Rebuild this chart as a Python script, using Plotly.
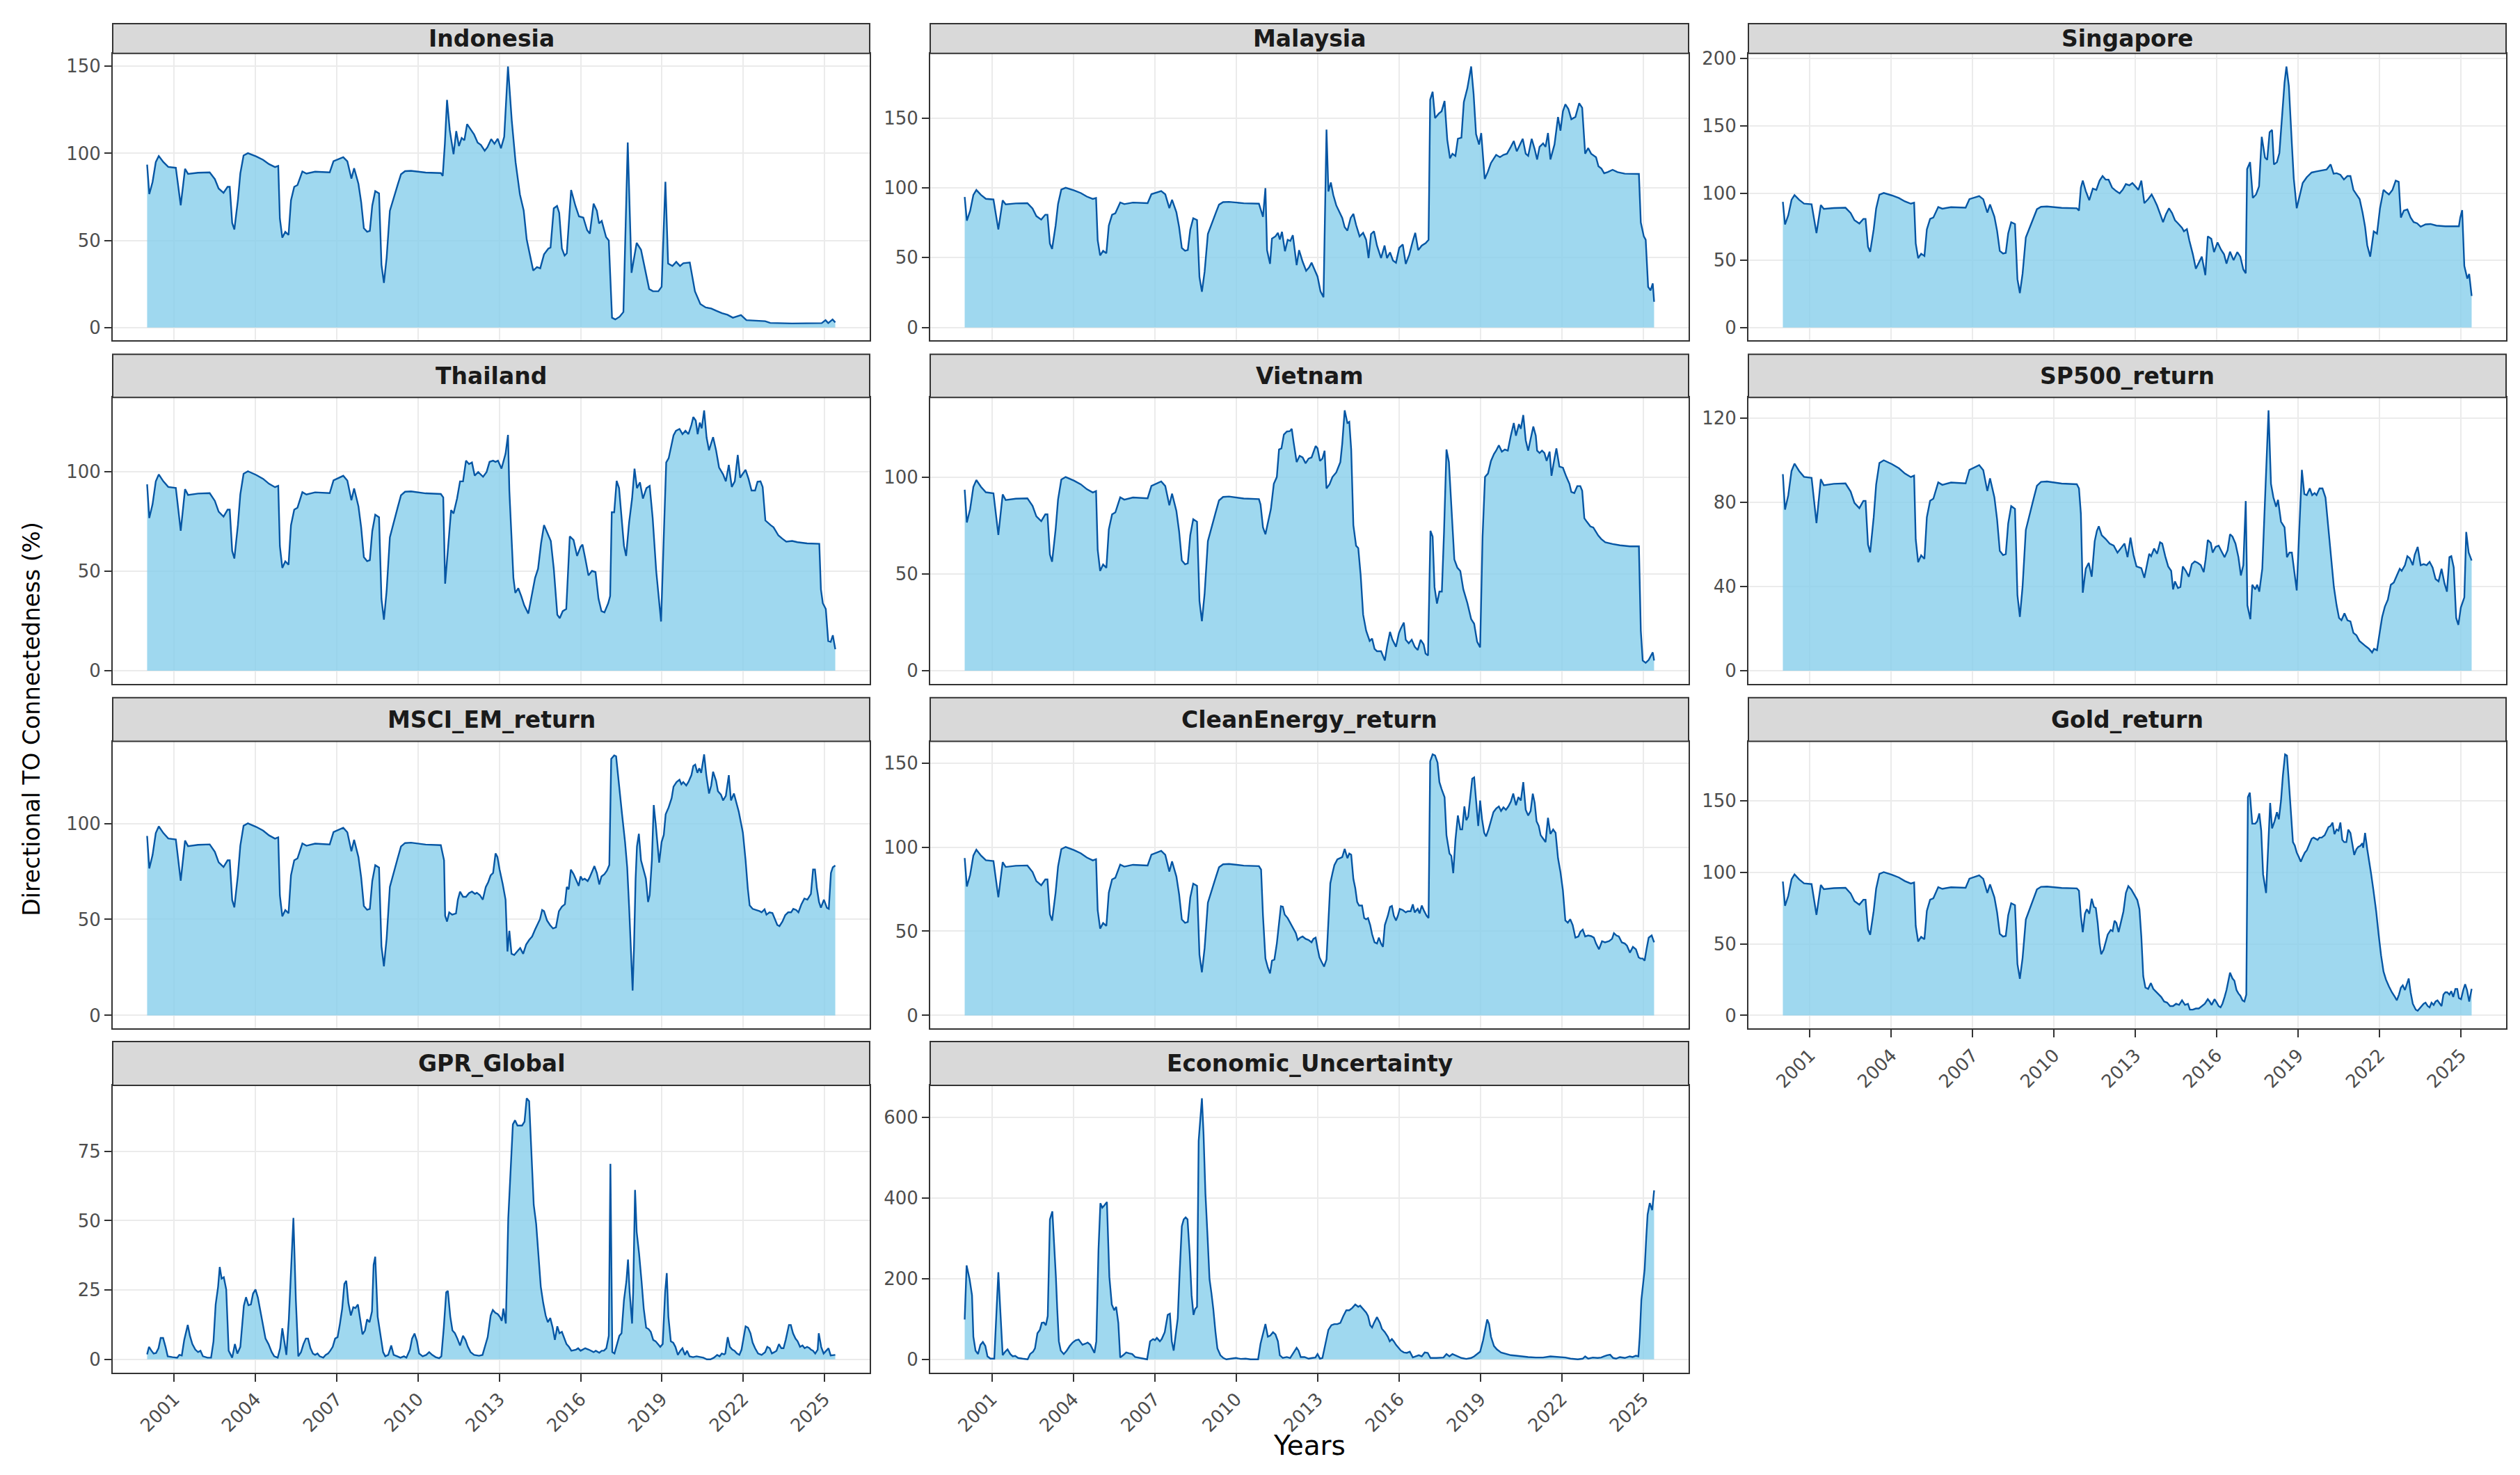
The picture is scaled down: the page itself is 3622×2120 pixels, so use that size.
import plotly.graph_objects as go

# canvas of the reference picture
W, H = 3622, 2120
OFF = 8  # the page body keeps its default 8px margin, so pull the layout back by that much

FILL = "rgba(135,206,235,0.8)"
LINE = "#0656A4"
FONT = "DejaVu Sans, Verdana, sans-serif"

years = [2001, 2004, 2007, 2010, 2013, 2016, 2019, 2022, 2025]
year_labels = [str(y) for y in years]
first_year, last_year = 2000.0, 2025.4

# 2000-2010 stretch, the same in every market / asset panel
base = [(2000.0, 93.5), (2000.08, 76.6), (2000.2, 83.5), (2000.32, 95.0), (2000.43, 98.5),
        (2000.6, 95.0), (2000.78, 92.2), (2001.06, 91.7), (2001.24, 70.2), (2001.4, 91.1),
        (2001.51, 88.2), (2001.88, 88.9), (2002.31, 89.1), (2002.5, 85.2), (2002.64, 79.8),
        (2002.82, 77.3), (2002.97, 80.8), (2003.05, 80.8), (2003.14, 60.0), (2003.22, 56.3),
        (2003.35, 73.0), (2003.44, 88.5), (2003.56, 98.8), (2003.72, 100.1), (2004.03, 98.2),
        (2004.28, 96.3), (2004.5, 93.8), (2004.72, 92.1), (2004.84, 92.8), (2004.9, 62.5),
        (2004.99, 51.6), (2005.1, 54.9), (2005.22, 53.2), (2005.31, 73.0), (2005.43, 80.8),
        (2005.55, 81.8), (2005.73, 89.6), (2005.88, 88.4), (2006.2, 89.5), (2006.74, 89.1),
        (2006.88, 95.5), (2007.06, 96.7), (2007.24, 97.8), (2007.39, 95.4), (2007.54, 85.5),
        (2007.64, 91.5), (2007.8, 82.5), (2007.9, 72.0), (2008.0, 57.0), (2008.12, 55.0),
        (2008.22, 55.5), (2008.31, 70.0), (2008.42, 78.3), (2008.56, 77.0), (2008.65, 36.0),
        (2008.74, 25.6), (2008.84, 40.0), (2008.96, 67.0), (2009.12, 74.8), (2009.25, 82.0),
        (2009.37, 88.0), (2009.52, 89.8), (2009.74, 90.0), (2010.28, 89.0), (2010.84, 88.7)]

indonesia = [(2010.91, 87), (2010.99, 105.5), (2011.07, 130.7), (2011.17, 113.4), (2011.31, 99.5),
             (2011.41, 112.8), (2011.51, 104.2), (2011.61, 108.8), (2011.71, 107.5), (2011.81, 116.8),
             (2011.93, 114.1), (2012.07, 110.8), (2012.2, 106.2), (2012.32, 104.8), (2012.46, 101.5),
             (2012.56, 103.5), (2012.7, 108.2), (2012.82, 105.5), (2012.94, 108.4), (2013.06, 102.9),
             (2013.18, 109.5), (2013.32, 149.9), (2013.46, 118.7), (2013.6, 94.9), (2013.76, 76.4),
             (2013.9, 67.1), (2014.01, 50.6), (2014.25, 32.7), (2014.39, 34.7), (2014.51, 34),
             (2014.65, 42), (2014.81, 45.3), (2014.89, 45.9), (2015.01, 68.4), (2015.13, 69.8),
             (2015.21, 65.8), (2015.31, 45.3), (2015.41, 41.3), (2015.49, 42.6), (2015.65, 79),
             (2015.81, 69.8), (2015.94, 63.8), (2016.1, 63.1), (2016.24, 55.9), (2016.34, 53.9),
             (2016.48, 71.1), (2016.6, 67.1), (2016.68, 59.8), (2016.78, 61.2), (2016.94, 51.9),
             (2017.04, 49.9), (2017.16, 5.6), (2017.28, 4.6), (2017.44, 6.2), (2017.58, 8.9),
             (2017.74, 106.2), (2017.88, 31.4), (2018.07, 48.6), (2018.23, 44.6), (2018.39, 32.7),
             (2018.53, 22.1), (2018.67, 20.8), (2018.87, 20.8), (2018.99, 23.4), (2019.13, 83.7),
             (2019.23, 36.7), (2019.39, 35.3), (2019.53, 37.7), (2019.67, 35.3), (2019.79, 36.9),
             (2020.03, 37.3), (2020.22, 20.8), (2020.42, 13.5), (2020.62, 11.5), (2020.82, 10.9),
             (2021.02, 9.5), (2021.22, 8.2), (2021.42, 7.3), (2021.62, 5.6), (2021.92, 7.1),
             (2022.12, 4.2), (2022.81, 3.6), (2023.0, 2.6), (2023.8, 2.3), (2024.9, 2.5),
             (2025.04, 4.2), (2025.14, 2.5), (2025.3, 4.6), (2025.4, 2.9)]

malaysia = [(2010.99, 79.3), (2011.08, 99.8), (2011.14, 55.4), (2011.25, 45.6), (2011.32, 63.7),
            (2011.45, 65.3), (2011.54, 67.8), (2011.61, 63), (2011.69, 68.6), (2011.8, 54.6),
            (2011.9, 62.8), (2012.0, 62), (2012.09, 66.1), (2012.23, 44.7), (2012.32, 55.4),
            (2012.45, 47.2), (2012.58, 40.6), (2012.69, 43.1), (2012.78, 46.4), (2012.87, 42.3),
            (2013.0, 36.5), (2013.11, 25.8), (2013.22, 21.7), (2013.33, 141.8), (2013.4, 97.4),
            (2013.49, 103.9), (2013.58, 94.9), (2013.69, 87.5), (2013.82, 81.7), (2013.91, 78.5),
            (2014.0, 71.9), (2014.1, 69.4), (2014.22, 78.5), (2014.32, 81.4), (2014.42, 73.5),
            (2014.55, 65.3), (2014.68, 67.8), (2014.79, 62.8), (2014.88, 49.7), (2014.97, 66.9),
            (2015.08, 68.9), (2015.19, 58.7), (2015.34, 49.7), (2015.47, 58.7), (2015.56, 49.7),
            (2015.67, 53.8), (2015.78, 48), (2015.89, 46.4), (2016.01, 57.1), (2016.14, 59.5),
            (2016.25, 45.6), (2016.38, 52.1), (2016.51, 62), (2016.6, 67.8), (2016.71, 55.4),
            (2016.84, 58.7), (2016.98, 60.4), (2017.09, 62.8), (2017.15, 163.2), (2017.24, 168.9),
            (2017.33, 150), (2017.47, 153.3), (2017.57, 154.9), (2017.68, 162.3), (2017.78, 134.4),
            (2017.88, 121.2), (2017.97, 124.5), (2018.08, 122.9), (2018.17, 135.2), (2018.3, 136),
            (2018.39, 161.5), (2018.52, 171.4), (2018.66, 187), (2018.75, 167.3), (2018.84, 138.5),
            (2018.95, 131.1), (2019.03, 139.3), (2019.16, 106.4), (2019.27, 111.3), (2019.39, 117.9),
            (2019.58, 123.7), (2019.72, 122), (2019.85, 123.7), (2019.98, 124.5), (2020.12, 129.4),
            (2020.23, 133.6), (2020.34, 126.2), (2020.45, 131.1), (2020.56, 135.2), (2020.67, 124.5),
            (2020.76, 123), (2020.89, 135.2), (2021.0, 127.8), (2021.09, 120.4), (2021.18, 129.4),
            (2021.31, 131.9), (2021.4, 129.4), (2021.49, 139.3), (2021.58, 120.4), (2021.73, 131.1),
            (2021.86, 150.8), (2021.95, 141), (2022.04, 154.9), (2022.13, 159.9), (2022.24, 156.6),
            (2022.35, 149.2), (2022.5, 150.8), (2022.64, 160.7), (2022.75, 157.4), (2022.86, 124.5),
            (2022.97, 128.6), (2023.08, 124.5), (2023.26, 122), (2023.35, 115.5), (2023.46, 113.8),
            (2023.56, 110.5), (2023.69, 111.3), (2023.87, 113), (2024.05, 111.3), (2024.32, 110.2),
            (2024.84, 110), (2024.91, 75.2), (2025.02, 65.3), (2025.09, 62.8), (2025.18, 29.1),
            (2025.27, 26.6), (2025.35, 31.6), (2025.4, 18.4)]

singapore = [(2010.92, 87), (2010.99, 104.1), (2011.06, 109.3), (2011.17, 101.5), (2011.3, 94.7),
             (2011.43, 103.3), (2011.56, 102.4), (2011.68, 109.3), (2011.79, 112.7), (2011.9, 110.1),
             (2012.01, 110), (2012.14, 104.1), (2012.29, 101.5), (2012.42, 99.8), (2012.53, 102.4),
             (2012.65, 106.7), (2012.78, 105.8), (2012.89, 107.5), (2013.0, 105), (2013.11, 102.4),
             (2013.22, 109.3), (2013.33, 92.5), (2013.47, 95.5), (2013.6, 99), (2013.69, 95.5),
             (2013.8, 90.7), (2013.93, 83.5), (2014.02, 78.4), (2014.13, 84.4), (2014.24, 88.7),
             (2014.35, 85.2), (2014.46, 79.8), (2014.57, 77.5), (2014.72, 74.1), (2014.79, 71.5),
             (2014.9, 73.2), (2014.99, 64.7), (2015.12, 54.4), (2015.23, 43.7), (2015.34, 48.4),
             (2015.45, 52.7), (2015.58, 38.9), (2015.67, 67.8), (2015.8, 66), (2015.9, 56.1),
             (2016.03, 63.3), (2016.16, 57.8), (2016.27, 54.4), (2016.36, 47.5), (2016.49, 56.4),
             (2016.62, 50.1), (2016.76, 56.1), (2016.87, 52.7), (2016.98, 43.2), (2017.07, 40.3),
             (2017.12, 117.8), (2017.23, 123), (2017.33, 96.4), (2017.45, 99), (2017.56, 105),
             (2017.66, 141.9), (2017.78, 126.4), (2017.86, 124.7), (2017.95, 145.3), (2018.04, 147),
             (2018.11, 121.3), (2018.22, 123), (2018.31, 129.8), (2018.4, 157.3), (2018.5, 182.2),
             (2018.57, 194.2), (2018.66, 179.6), (2018.77, 136.7), (2018.84, 111), (2018.95, 88.7),
             (2019.06, 99), (2019.17, 107.5), (2019.32, 111.8), (2019.5, 115.3), (2019.68, 116.1),
             (2019.87, 117), (2020.05, 117.5), (2020.2, 121.3), (2020.31, 114.4), (2020.42, 114.8),
             (2020.56, 113.6), (2020.69, 110.1), (2020.82, 112.7), (2020.93, 112.7), (2021.04, 102.4),
             (2021.15, 99), (2021.27, 95.5), (2021.38, 85.2), (2021.47, 75), (2021.55, 61.2),
             (2021.66, 52.7), (2021.79, 71.5), (2021.91, 69.8), (2022.02, 88.7), (2022.15, 102.4),
             (2022.24, 100.7), (2022.35, 99), (2022.48, 102.4), (2022.6, 109.3), (2022.71, 108.4),
             (2022.79, 81.8), (2022.9, 87), (2023.03, 87.8), (2023.15, 81.8), (2023.26, 78.4),
             (2023.39, 77.5), (2023.52, 75), (2023.7, 76.7), (2023.88, 77), (2024.1, 75.8),
             (2024.43, 75.3), (2024.93, 75.3), (2024.98, 81.8), (2025.05, 87.3), (2025.13, 45.8),
             (2025.24, 36.4), (2025.31, 39.8), (2025.4, 23.5)]

thailand = [(2010.93, 87), (2011.0, 43.7), (2011.13, 66.2), (2011.22, 80.6), (2011.31, 78.9),
            (2011.44, 86.4), (2011.55, 95), (2011.66, 95), (2011.77, 105.4), (2011.88, 103.7),
            (2011.99, 104.5), (2012.09, 97.9), (2012.22, 99.7), (2012.4, 97.3), (2012.53, 99.7),
            (2012.64, 104.8), (2012.77, 105.4), (2012.86, 104.8), (2012.95, 105.4), (2013.08, 101.4),
            (2013.23, 108.9), (2013.32, 118.3), (2013.37, 90.4), (2013.45, 63.9), (2013.52, 46.6),
            (2013.59, 39.1), (2013.7, 41.4), (2013.81, 37.4), (2013.92, 32.8), (2014.07, 28.7),
            (2014.18, 36.2), (2014.32, 46.6), (2014.43, 51.2), (2014.54, 63.9), (2014.65, 73.1),
            (2014.78, 69.1), (2014.9, 65.1), (2015.01, 51.2), (2015.14, 28.1), (2015.23, 26.4),
            (2015.34, 29.9), (2015.47, 31), (2015.6, 67.4), (2015.74, 65.6), (2015.87, 57.6),
            (2016.0, 62.2), (2016.07, 63.3), (2016.18, 55.8), (2016.29, 47.8), (2016.42, 50.1),
            (2016.55, 49.5), (2016.66, 36.2), (2016.77, 29.9), (2016.88, 29.3), (2017.02, 33.9),
            (2017.09, 37.4), (2017.15, 79.5), (2017.24, 79.5), (2017.33, 95.3), (2017.42, 91.6),
            (2017.51, 76.6), (2017.6, 62.7), (2017.68, 57.6), (2017.79, 74.3), (2017.9, 86.4),
            (2017.99, 101.4), (2018.08, 91.6), (2018.19, 94.5), (2018.3, 86.4), (2018.43, 91.6),
            (2018.55, 92.7), (2018.66, 76.6), (2018.79, 50.1), (2018.88, 37.4), (2018.97, 24.7),
            (2019.07, 67.4), (2019.16, 104.5), (2019.25, 106.6), (2019.34, 111.8), (2019.43, 118.1),
            (2019.52, 120.4), (2019.65, 121.3), (2019.76, 118.7), (2019.87, 120.4), (2019.98, 118.7),
            (2020.09, 123.3), (2020.16, 127.3), (2020.25, 125.5), (2020.32, 118.7), (2020.4, 124.5),
            (2020.47, 121.6), (2020.56, 130.6), (2020.65, 117), (2020.74, 110.6), (2020.89, 117.2),
            (2021.0, 110.6), (2021.11, 102), (2021.26, 98.5), (2021.36, 95), (2021.47, 103.3),
            (2021.58, 92.2), (2021.69, 95), (2021.8, 108.3), (2021.89, 96.8), (2021.98, 98.7),
            (2022.09, 100.8), (2022.2, 96.2), (2022.31, 90.4), (2022.44, 90.4), (2022.53, 94.8),
            (2022.64, 95), (2022.72, 92.2), (2022.82, 75.4), (2022.9, 74.3), (2023.01, 73.1),
            (2023.12, 72), (2023.23, 69.7), (2023.3, 67.9), (2023.45, 66.2), (2023.59, 64.8),
            (2023.81, 65.1), (2024.0, 64.5), (2024.36, 63.9), (2024.81, 63.7), (2024.87, 40.8),
            (2024.94, 33.9), (2025.05, 31), (2025.14, 14.9), (2025.23, 14.5), (2025.31, 17.8),
            (2025.4, 10.8)]

vietnam = [(2010.9, 85.9), (2010.99, 74.1), (2011.08, 70.5), (2011.17, 76.4), (2011.28, 83.5),
           (2011.39, 96.6), (2011.5, 100.1), (2011.58, 114.3), (2011.67, 114.9), (2011.76, 122),
           (2011.87, 123.6), (2011.98, 123.8), (2012.05, 125), (2012.12, 117.9), (2012.23, 107.8),
           (2012.34, 111), (2012.45, 110.2), (2012.56, 107.2), (2012.67, 109.6), (2012.78, 110.2),
           (2012.93, 116.1), (2013.0, 114.9), (2013.09, 108.4), (2013.18, 109.6), (2013.26, 113.7),
           (2013.33, 94.2), (2013.44, 96.3), (2013.55, 100.1), (2013.69, 102.5), (2013.84, 107.8),
           (2013.91, 117.3), (2014.0, 134.5), (2014.1, 128), (2014.17, 128.6), (2014.24, 114.3),
           (2014.32, 75.2), (2014.42, 64.6), (2014.5, 63.4), (2014.59, 49.2), (2014.68, 29),
           (2014.79, 20.7), (2014.92, 15.4), (2015.01, 16.6), (2015.1, 11.3), (2015.19, 10.1),
           (2015.34, 10.1), (2015.48, 5.3), (2015.56, 12.4), (2015.67, 20.1), (2015.76, 16),
           (2015.89, 12.4), (2016.0, 19.5), (2016.07, 21.9), (2016.18, 24.9), (2016.25, 16),
           (2016.36, 14.2), (2016.47, 16), (2016.58, 12.4), (2016.69, 10.7), (2016.8, 16),
           (2016.91, 13.6), (2016.98, 8.9), (2017.07, 7.9), (2017.16, 72.3), (2017.24, 69.3),
           (2017.31, 43.2), (2017.4, 34.7), (2017.49, 40.9), (2017.58, 40.9), (2017.66, 71.7),
           (2017.75, 114.3), (2017.84, 107.8), (2017.93, 85.9), (2018.04, 57.5), (2018.15, 53.3),
           (2018.26, 51.5), (2018.37, 42.1), (2018.52, 35), (2018.66, 26.7), (2018.77, 24.3),
           (2018.88, 15), (2018.99, 12.1), (2019.08, 69.3), (2019.17, 100.1), (2019.28, 101.9),
           (2019.39, 108.4), (2019.5, 112), (2019.58, 113.7), (2019.68, 116.5), (2019.79, 113.2),
           (2019.9, 114.3), (2020.01, 113.7), (2020.12, 121.4), (2020.23, 128), (2020.31, 121.4),
           (2020.42, 127.4), (2020.49, 125), (2020.58, 132.1), (2020.67, 119.1), (2020.76, 113.7),
           (2020.85, 119.7), (2020.95, 126.2), (2021.04, 121.4), (2021.09, 113.7), (2021.18, 112.5),
           (2021.27, 113.7), (2021.36, 112.5), (2021.44, 108.4), (2021.55, 113.2), (2021.62, 100.7),
           (2021.69, 106.6), (2021.8, 114.9), (2021.91, 105.5), (2022.04, 104.9), (2022.17, 100.1),
           (2022.28, 96.6), (2022.35, 92.4), (2022.46, 91.8), (2022.57, 95.4), (2022.68, 95.4),
           (2022.75, 93), (2022.83, 78.8), (2022.92, 77), (2023.05, 74.6), (2023.16, 74),
           (2023.23, 72.3), (2023.34, 69.9), (2023.45, 68.1), (2023.6, 66.4), (2023.87, 65.5),
           (2024.14, 64.8), (2024.51, 64.3), (2024.84, 64.3), (2024.91, 20.7), (2024.98, 5.3),
           (2025.09, 4.1), (2025.2, 5.6), (2025.35, 9.5), (2025.4, 5.3)]

sp500 = [(2010.92, 86.7), (2010.99, 74.7), (2011.06, 37.1), (2011.17, 48.5), (2011.28, 51.3),
         (2011.39, 44.7), (2011.5, 61.6), (2011.58, 66.5), (2011.65, 68.7), (2011.76, 64.4),
         (2011.9, 62.7), (2012.05, 60.5), (2012.2, 59.5), (2012.34, 56.2), (2012.47, 58.4),
         (2012.6, 60.5), (2012.71, 54), (2012.82, 63.3), (2012.93, 55.1), (2013.04, 49.6),
         (2013.15, 49.1), (2013.22, 48.8), (2013.33, 44.2), (2013.44, 50.7), (2013.51, 55.6),
         (2013.58, 54.5), (2013.69, 58.1), (2013.8, 55.6), (2013.91, 61.1), (2013.99, 60.5),
         (2014.1, 54.5), (2014.21, 49.6), (2014.32, 47.5), (2014.39, 38.7), (2014.46, 42.5),
         (2014.57, 39.3), (2014.66, 39.8), (2014.75, 49.6), (2014.86, 47.5), (2014.97, 44.7),
         (2015.08, 50.7), (2015.19, 52), (2015.3, 51.3), (2015.41, 50.2), (2015.52, 46.9),
         (2015.59, 52.9), (2015.67, 62.2), (2015.78, 60.8), (2015.85, 56.2), (2015.96, 58.9),
         (2016.07, 59.5), (2016.18, 56.7), (2016.29, 54), (2016.4, 57.3), (2016.49, 64.9),
         (2016.58, 63.8), (2016.69, 60.5), (2016.8, 54), (2016.89, 45.3), (2016.98, 50.2),
         (2017.07, 80.7), (2017.13, 31.1), (2017.24, 24.5), (2017.31, 40.9), (2017.42, 38.7),
         (2017.49, 40.9), (2017.57, 37.6), (2017.68, 48.5), (2017.77, 75.8), (2017.86, 105.3),
         (2017.91, 123.8), (2018.0, 88.9), (2018.09, 82.4), (2018.19, 78), (2018.26, 81.3),
         (2018.37, 70.9), (2018.5, 68.2), (2018.59, 54), (2018.68, 56.2), (2018.77, 56.2),
         (2018.84, 49.6), (2018.95, 38.2), (2019.04, 66), (2019.14, 95.5), (2019.23, 84),
         (2019.32, 83.5), (2019.43, 86.7), (2019.52, 83.5), (2019.61, 84.5), (2019.68, 83.5),
         (2019.79, 86.7), (2019.9, 86.7), (2020.01, 82.4), (2020.09, 71.5), (2020.2, 55.1),
         (2020.32, 39.8), (2020.42, 31.1), (2020.51, 25.1), (2020.6, 24), (2020.71, 27.3),
         (2020.82, 24), (2020.93, 23.5), (2021.04, 18), (2021.15, 16.9), (2021.26, 14.2),
         (2021.4, 12.5), (2021.51, 11.5), (2021.62, 10.4), (2021.73, 8.7), (2021.8, 10.4),
         (2021.91, 9.8), (2022.02, 19.1), (2022.1, 25.6), (2022.2, 30.5), (2022.31, 33.8),
         (2022.42, 40.9), (2022.53, 42), (2022.64, 45.3), (2022.75, 48.5), (2022.82, 47.5),
         (2022.94, 50.2), (2023.03, 54.5), (2023.12, 53.5), (2023.23, 50.2), (2023.3, 55.1),
         (2023.41, 58.9), (2023.52, 50.2), (2023.63, 50.7), (2023.74, 50.2), (2023.85, 51.8),
         (2023.96, 49.1), (2024.07, 43.6), (2024.18, 42.5), (2024.29, 48.5), (2024.4, 41.5),
         (2024.49, 37.6), (2024.58, 54), (2024.65, 54.5), (2024.74, 49.1), (2024.83, 25.1),
         (2024.91, 21.8), (2025.0, 30), (2025.13, 34.9), (2025.2, 66), (2025.29, 56.2),
         (2025.4, 52.4)]

msci_em = [(2010.96, 80.8), (2011.0, 51.9), (2011.07, 48.9), (2011.15, 53.7), (2011.26, 52.5),
           (2011.4, 53.1), (2011.47, 60.3), (2011.55, 64.5), (2011.66, 61.8), (2011.77, 61.8),
           (2011.88, 63.7), (2011.99, 64.5), (2012.1, 63.3), (2012.17, 63.9), (2012.28, 62.7),
           (2012.39, 60.3), (2012.5, 66.9), (2012.59, 69.4), (2012.68, 73), (2012.77, 74.2),
           (2012.86, 84.4), (2012.93, 82.6), (2013.01, 76), (2013.12, 68.8), (2013.23, 60.3),
           (2013.3, 33.3), (2013.37, 44.1), (2013.45, 32.1), (2013.55, 31.5), (2013.66, 33.3),
           (2013.77, 35.1), (2013.88, 32.1), (2013.99, 36.9), (2014.1, 39.3), (2014.21, 41.1),
           (2014.32, 44.7), (2014.43, 48.3), (2014.5, 50.1), (2014.58, 54.9), (2014.65, 54.3),
           (2014.76, 49.5), (2014.87, 47.1), (2014.98, 45.3), (2015.09, 45.9), (2015.2, 54.3),
           (2015.31, 56.7), (2015.42, 57.9), (2015.49, 66.9), (2015.56, 65.7), (2015.64, 76),
           (2015.74, 73.6), (2015.82, 71.2), (2015.93, 67.5), (2016.0, 72.4), (2016.07, 70.6),
           (2016.15, 71.2), (2016.26, 70), (2016.33, 71.8), (2016.42, 74.8), (2016.51, 77.8),
           (2016.6, 74.2), (2016.69, 68.2), (2016.77, 72.4), (2016.88, 73.6), (2016.97, 75.4),
           (2017.06, 78.4), (2017.13, 133.7), (2017.24, 135.5), (2017.31, 135), (2017.42, 119.2),
           (2017.53, 104.8), (2017.64, 90.4), (2017.72, 77.2), (2017.79, 56.7), (2017.86, 35.1),
           (2017.92, 12.9), (2017.97, 35.1), (2018.03, 71.2), (2018.08, 88), (2018.15, 94.6),
           (2018.23, 80.8), (2018.34, 74.8), (2018.41, 71.2), (2018.49, 59.1), (2018.55, 62.7),
           (2018.63, 80.8), (2018.7, 109.6), (2018.77, 100), (2018.85, 86.8), (2018.9, 79.6),
           (2018.99, 90.4), (2019.07, 94), (2019.14, 104.8), (2019.25, 108.4), (2019.36, 113.2),
           (2019.43, 119.2), (2019.54, 121.6), (2019.65, 122.8), (2019.72, 120.4), (2019.79, 121.6),
           (2019.9, 119.8), (2019.98, 121.6), (2020.09, 125.2), (2020.16, 130), (2020.23, 130.7),
           (2020.31, 126.4), (2020.38, 128.8), (2020.45, 126.4), (2020.56, 136), (2020.64, 125.2),
           (2020.74, 115.6), (2020.82, 119.8), (2020.89, 127), (2021.0, 122.2), (2021.07, 116.8),
           (2021.18, 115), (2021.26, 112), (2021.36, 114.4), (2021.47, 125.2), (2021.55, 112),
           (2021.66, 115.6), (2021.73, 112), (2021.84, 106), (2021.99, 95.2), (2022.09, 80.8),
           (2022.17, 66.3), (2022.24, 57.3), (2022.35, 55.5), (2022.5, 54.9), (2022.61, 54.3),
           (2022.68, 53.7), (2022.79, 55.3), (2022.86, 52.5), (2022.97, 53.7), (2023.08, 53.3),
           (2023.17, 50.1), (2023.26, 47.1), (2023.34, 46.5), (2023.45, 48.9), (2023.55, 52.2),
           (2023.66, 53.7), (2023.77, 53.7), (2023.85, 55.5), (2023.96, 54.9), (2024.04, 53.7),
           (2024.15, 57.9), (2024.26, 60.9), (2024.37, 60.3), (2024.5, 63.3), (2024.58, 76),
           (2024.65, 76), (2024.72, 66.3), (2024.8, 59.1), (2024.87, 56.1), (2024.98, 60.3),
           (2025.09, 56.1), (2025.16, 55.5), (2025.24, 74.2), (2025.31, 77.2), (2025.4, 78.1)]

clean_energy = [(2010.92, 86.6), (2010.99, 59.2), (2011.08, 33.8), (2011.17, 28.4), (2011.25, 24.9),
                (2011.32, 32.5), (2011.41, 33.2), (2011.5, 42.7), (2011.58, 55.1), (2011.65, 64.9),
                (2011.72, 64.6), (2011.79, 59.9), (2011.9, 57.8), (2012.01, 54.4), (2012.12, 51.6),
                (2012.2, 48.9), (2012.27, 44.8), (2012.36, 46.2), (2012.45, 46.9), (2012.56, 45.5),
                (2012.67, 44.8), (2012.78, 43.4), (2012.85, 45.5), (2012.93, 46.2), (2013.0, 40),
                (2013.07, 34.5), (2013.15, 31.8), (2013.24, 29), (2013.33, 33.2), (2013.4, 53.7),
                (2013.47, 78.4), (2013.55, 84.5), (2013.62, 89.3), (2013.73, 92.7), (2013.84, 93.4),
                (2013.91, 94.1), (2014.0, 98.9), (2014.1, 93.4), (2014.17, 96.2), (2014.24, 95.5),
                (2014.32, 81.1), (2014.39, 75.6), (2014.46, 67.4), (2014.53, 65.3), (2014.64, 65.3),
                (2014.72, 57.8), (2014.79, 57.1), (2014.86, 57.8), (2014.94, 53.7), (2015.01, 48.2),
                (2015.1, 43.4), (2015.19, 42.7), (2015.26, 46.2), (2015.34, 42.7), (2015.41, 40.7),
                (2015.48, 53.7), (2015.59, 59.2), (2015.67, 64.4), (2015.74, 65), (2015.81, 59.2),
                (2015.89, 56.4), (2015.96, 59.2), (2016.03, 63.3), (2016.14, 62.6), (2016.25, 61.2),
                (2016.32, 61.9), (2016.43, 61.9), (2016.51, 66), (2016.58, 61.2), (2016.69, 63.3),
                (2016.76, 60.6), (2016.84, 65.3), (2016.93, 61.9), (2017.02, 59.2), (2017.09, 57.8),
                (2017.15, 151), (2017.24, 155.1), (2017.33, 154.4), (2017.42, 150.3), (2017.49, 138.6),
                (2017.57, 134.5), (2017.68, 129.7), (2017.75, 107.1), (2017.86, 96.2), (2017.93, 94.8),
                (2018.0, 84.5), (2018.08, 104.4), (2018.17, 118.8), (2018.26, 110.5), (2018.33, 110.5),
                (2018.41, 124.2), (2018.48, 116), (2018.55, 118.1), (2018.63, 130.4), (2018.7, 140.7),
                (2018.77, 141.4), (2018.84, 126.3), (2018.92, 112.6), (2018.99, 127.7), (2019.06, 116.7),
                (2019.14, 108.5), (2019.21, 106.4), (2019.3, 110.5), (2019.39, 116), (2019.48, 120.8),
                (2019.58, 122.9), (2019.68, 124.2), (2019.76, 121.5), (2019.85, 123.6), (2019.94, 122.2),
                (2020.03, 124.2), (2020.12, 127), (2020.21, 131.8), (2020.31, 124.9), (2020.4, 129.7),
                (2020.49, 127.7), (2020.58, 138.6), (2020.67, 122.2), (2020.76, 118.8), (2020.85, 121.5),
                (2020.93, 131.8), (2021.0, 126.3), (2021.07, 115.3), (2021.15, 112.6), (2021.22, 107.1),
                (2021.31, 105.1), (2021.4, 103), (2021.49, 117.4), (2021.58, 107.8), (2021.68, 110.5),
                (2021.77, 108.5), (2021.86, 93.4), (2021.95, 85.2), (2022.04, 74.2), (2022.13, 56.4),
                (2022.22, 55.1), (2022.31, 57.1), (2022.4, 53.7), (2022.5, 46.2), (2022.61, 46.9),
                (2022.68, 49.6), (2022.77, 51), (2022.86, 46.9), (2022.97, 47.5), (2023.08, 47.1),
                (2023.18, 46.2), (2023.26, 42.7), (2023.37, 39.3), (2023.48, 44.1), (2023.59, 43.4),
                (2023.74, 44.1), (2023.85, 45.5), (2023.92, 48.9), (2024.01, 47.5), (2024.1, 46.9),
                (2024.21, 43.4), (2024.32, 42.7), (2024.4, 41.4), (2024.51, 37.3), (2024.62, 40.7),
                (2024.73, 39.3), (2024.83, 34.5), (2024.9, 33.8), (2024.98, 33.8), (2025.05, 32.5),
                (2025.12, 39.3), (2025.2, 46.2), (2025.31, 47.5), (2025.4, 43.4)]

gold = [(2010.92, 87.1), (2010.99, 69.4), (2011.06, 58.1), (2011.14, 71), (2011.21, 74.2),
        (2011.3, 71), (2011.39, 81.5), (2011.47, 75.8), (2011.54, 75), (2011.61, 64.5),
        (2011.68, 50), (2011.74, 42.7), (2011.83, 46), (2011.9, 51.6), (2011.98, 56.5),
        (2012.09, 59.7), (2012.16, 58.9), (2012.23, 66.1), (2012.3, 64.5), (2012.38, 58.1),
        (2012.49, 66.1), (2012.56, 72.6), (2012.65, 85.5), (2012.74, 90.3), (2012.85, 87.9),
        (2012.96, 83.9), (2013.07, 80.6), (2013.15, 74.2), (2013.22, 54.8), (2013.29, 27.4),
        (2013.37, 19.4), (2013.47, 18.5), (2013.57, 22.6), (2013.66, 18.5), (2013.75, 16.9),
        (2013.84, 15.3), (2013.95, 12.9), (2014.06, 9.7), (2014.17, 8.9), (2014.28, 6.5),
        (2014.39, 6.5), (2014.5, 8.1), (2014.61, 7.3), (2014.72, 10.5), (2014.83, 7.3),
        (2014.94, 8.1), (2015.01, 4), (2015.12, 4), (2015.23, 4.8), (2015.34, 4.8),
        (2015.45, 6.5), (2015.56, 8.1), (2015.67, 11.3), (2015.74, 9.7), (2015.81, 7.3),
        (2015.92, 11.3), (2016.0, 8.9), (2016.07, 6.5), (2016.14, 5.6), (2016.21, 8.1),
        (2016.29, 12.9), (2016.36, 17.7), (2016.43, 24.2), (2016.49, 29.8), (2016.58, 25.8),
        (2016.65, 24.2), (2016.73, 17.7), (2016.8, 15.3), (2016.87, 13.7), (2016.95, 10.5),
        (2017.02, 9.7), (2017.09, 14.5), (2017.15, 152.4), (2017.22, 155.6), (2017.31, 133.9),
        (2017.42, 133.9), (2017.49, 135.5), (2017.57, 141.1), (2017.64, 129), (2017.71, 98.4),
        (2017.82, 85.5), (2017.89, 114.5), (2017.97, 148.4), (2018.04, 130.6), (2018.13, 135.5),
        (2018.22, 141.9), (2018.29, 137), (2018.37, 150), (2018.44, 167.7), (2018.52, 182.3),
        (2018.59, 181.5), (2018.66, 162.9), (2018.74, 140.3), (2018.81, 121), (2018.88, 118.5),
        (2018.95, 113.7), (2019.03, 110.5), (2019.1, 107.3), (2019.17, 110.5), (2019.25, 113.7),
        (2019.32, 115.3), (2019.39, 118.5), (2019.5, 123.4), (2019.57, 124.2), (2019.65, 123.4),
        (2019.72, 122.6), (2019.79, 124.2), (2019.87, 124.2), (2019.98, 125.8), (2020.05, 129),
        (2020.12, 131.5), (2020.2, 132.3), (2020.27, 134.7), (2020.34, 126.6), (2020.42, 129.8),
        (2020.49, 129), (2020.56, 134.7), (2020.63, 122.6), (2020.7, 121), (2020.78, 121),
        (2020.85, 129.8), (2020.93, 127.4), (2021.0, 119.4), (2021.07, 112.1), (2021.15, 116.1),
        (2021.22, 117.7), (2021.3, 118.5), (2021.37, 120.2), (2021.4, 117), (2021.47, 127.4),
        (2021.55, 116.1), (2021.62, 108.1), (2021.69, 99.2), (2021.78, 87.1), (2021.88, 72.6),
        (2021.97, 56.5), (2022.06, 41.9), (2022.15, 30.6), (2022.24, 25), (2022.35, 20.2),
        (2022.46, 16.1), (2022.57, 12.9), (2022.64, 10.5), (2022.72, 14.5), (2022.79, 19.4),
        (2022.86, 21), (2022.94, 17.7), (2023.01, 21.8), (2023.08, 25.8), (2023.15, 16.1),
        (2023.23, 8.1), (2023.34, 4), (2023.41, 3.2), (2023.48, 4.8), (2023.56, 6.5),
        (2023.63, 8.1), (2023.7, 8.9), (2023.78, 6.5), (2023.85, 5.6), (2023.92, 8.9),
        (2024.0, 7.3), (2024.07, 9.7), (2024.14, 10.5), (2024.22, 8.1), (2024.29, 6.5),
        (2024.36, 14.5), (2024.43, 16.1), (2024.5, 16.1), (2024.58, 14.5), (2024.65, 16.9),
        (2024.72, 12.9), (2024.8, 18.5), (2024.87, 18.5), (2024.93, 12.1), (2025.01, 11.3),
        (2025.09, 17.7), (2025.16, 21.8), (2025.23, 17.7), (2025.31, 9.7), (2025.4, 18.5)]

gpr_global = [(2000.0, 1.8), (2000.07, 4.5), (2000.16, 3.1), (2000.24, 2.1), (2000.33, 2.3), (2000.42, 4.0),
              (2000.5, 7.7), (2000.59, 7.7), (2000.68, 4.5), (2000.76, 1.1), (2000.94, 0.8), (2001.11, 0.6),
              (2001.19, 1.6), (2001.28, 1.4), (2001.37, 7.0), (2001.5, 12.4), (2001.58, 8.5), (2001.67, 5.5),
              (2001.78, 3.5), (2001.88, 2.6), (2001.97, 3.1), (2002.06, 1.1), (2002.23, 0.6), (2002.36, 0.6),
              (2002.45, 6.5), (2002.53, 19.8), (2002.62, 26.2), (2002.68, 33.3), (2002.75, 29.1), (2002.83, 29.6),
              (2002.92, 25.2), (2003.01, 3.1), (2003.14, 0.6), (2003.24, 5.5), (2003.33, 2.1), (2003.44, 4.5),
              (2003.57, 19.3), (2003.65, 22.4), (2003.74, 19.5), (2003.83, 19.8), (2003.91, 23.7), (2004.0, 25.2),
              (2004.09, 22.2), (2004.17, 17.8), (2004.26, 13.4), (2004.37, 7.5), (2004.48, 5.5), (2004.6, 2.6),
              (2004.69, 1.1), (2004.82, 0.6), (2004.91, 4.0), (2004.99, 11.2), (2005.08, 5.5), (2005.14, 1.6),
              (2005.23, 14.4), (2005.34, 38.0), (2005.4, 51.0), (2005.49, 21.3), (2005.58, 1.1), (2005.68, 2.6),
              (2005.77, 5.5), (2005.86, 7.5), (2005.94, 7.5), (2006.03, 4.0), (2006.12, 2.1), (2006.2, 1.6),
              (2006.29, 2.1), (2006.37, 1.1), (2006.5, 0.6), (2006.59, 1.6), (2006.68, 2.1), (2006.76, 3.1),
              (2006.85, 4.5), (2006.94, 7.5), (2007.03, 8.0), (2007.11, 12.4), (2007.2, 18.3), (2007.28, 27.2),
              (2007.35, 28.3), (2007.43, 20.3), (2007.52, 15.8), (2007.61, 18.8), (2007.69, 18.5), (2007.78, 19.8),
              (2007.86, 14.4), (2007.95, 9.0), (2008.04, 10.4), (2008.12, 14.4), (2008.21, 13.4), (2008.3, 17.3),
              (2008.36, 34.1), (2008.42, 37.0), (2008.51, 15.4), (2008.62, 8.5), (2008.71, 2.6), (2008.79, 1.1),
              (2008.9, 1.6), (2009.01, 5.0), (2009.1, 1.6), (2009.23, 1.1), (2009.35, 0.6), (2009.48, 1.1),
              (2009.57, 0.6), (2009.7, 3.5), (2009.78, 7.5), (2009.87, 9.3), (2009.96, 6.5), (2010.04, 2.1),
              (2010.17, 1.1), (2010.3, 1.6), (2010.41, 2.6), (2010.52, 1.6), (2010.65, 0.8), (2010.78, 0.4),
              (2010.86, 1.1), (2010.95, 11.4), (2011.04, 24.2), (2011.1, 24.7), (2011.19, 15.4), (2011.27, 10.4),
              (2011.36, 9.4), (2011.45, 7.5), (2011.55, 5.0), (2011.66, 8.5), (2011.75, 7.0), (2011.84, 4.5),
              (2011.94, 2.6), (2012.07, 1.6), (2012.25, 1.3), (2012.38, 1.6), (2012.46, 4.5), (2012.57, 8.0),
              (2012.68, 15.8), (2012.76, 17.8), (2012.85, 16.8), (2012.94, 16.3), (2013.02, 15.3), (2013.09, 13.9),
              (2013.15, 18.3), (2013.24, 12.9), (2013.33, 50.8), (2013.41, 65.6), (2013.5, 84.7), (2013.58, 86.2),
              (2013.67, 84.3), (2013.76, 84.3), (2013.84, 84.3), (2013.93, 85.7), (2014.01, 94.1), (2014.1, 93.1),
              (2014.19, 73.4), (2014.27, 55.7), (2014.36, 48.8), (2014.45, 38.0), (2014.53, 26.2), (2014.62, 20.3),
              (2014.71, 15.8), (2014.79, 13.4), (2014.88, 14.9), (2014.97, 11.4), (2015.05, 7.0), (2015.14, 11.9),
              (2015.22, 9.4), (2015.31, 9.9), (2015.4, 7.5), (2015.48, 5.5), (2015.57, 4.5), (2015.66, 3.1),
              (2015.83, 3.5), (2015.91, 4.0), (2016.0, 3.1), (2016.09, 3.5), (2016.17, 4.0), (2016.3, 3.5),
              (2016.39, 3.1), (2016.48, 2.6), (2016.56, 3.1), (2016.69, 2.4), (2016.78, 3.1), (2016.86, 3.1),
              (2016.95, 4.0), (2017.04, 8.5), (2017.1, 70.5), (2017.17, 2.6), (2017.25, 2.1), (2017.34, 5.5),
              (2017.43, 8.5), (2017.51, 9.4), (2017.6, 21.3), (2017.69, 28.1), (2017.75, 36.0), (2017.81, 24.2),
              (2017.9, 12.9), (2017.94, 24.2), (2018.01, 61.1), (2018.07, 45.9), (2018.16, 38.0), (2018.25, 28.1),
              (2018.33, 18.3), (2018.42, 11.4), (2018.51, 10.9), (2018.59, 9.9), (2018.68, 7.0), (2018.77, 6.5),
              (2018.85, 5.5), (2018.94, 4.5), (2019.03, 5.5), (2019.12, 24.2), (2019.18, 31.1), (2019.24, 15.4),
              (2019.33, 6.5), (2019.42, 6.0), (2019.5, 4.5), (2019.59, 1.6), (2019.68, 3.1), (2019.76, 4.0),
              (2019.85, 1.6), (2019.93, 3.1), (2020.02, 1.1), (2020.15, 0.8), (2020.28, 1.1), (2020.41, 0.8),
              (2020.53, 0.6), (2020.66, 0.0), (2020.79, 0.0), (2020.92, 0.6), (2021.04, 1.6), (2021.13, 1.1),
              (2021.21, 2.1), (2021.3, 1.8), (2021.34, 2.1), (2021.43, 8.0), (2021.51, 4.5), (2021.6, 3.5),
              (2021.68, 3.1), (2021.77, 2.1), (2021.86, 1.6), (2021.94, 3.5), (2022.03, 8.5), (2022.09, 11.9),
              (2022.18, 11.4), (2022.27, 9.4), (2022.35, 6.0), (2022.44, 4.0), (2022.55, 2.1), (2022.68, 1.6),
              (2022.81, 2.6), (2022.89, 4.5), (2022.98, 4.0), (2023.06, 2.1), (2023.15, 2.6), (2023.23, 3.1),
              (2023.32, 5.5), (2023.41, 4.0), (2023.49, 4.0), (2023.57, 7.0), (2023.69, 12.4), (2023.76, 12.4),
              (2023.84, 9.4), (2023.93, 7.5), (2024.01, 6.5), (2024.1, 4.5), (2024.19, 5.0), (2024.27, 4.0),
              (2024.36, 4.5), (2024.45, 4.0), (2024.5, 3.5), (2024.58, 3.1), (2024.66, 2.1), (2024.75, 3.5),
              (2024.79, 9.4), (2024.88, 4.5), (2024.97, 2.1), (2025.06, 3.1), (2025.15, 4.0), (2025.23, 1.4),
              (2025.4, 1.6)]

economic_uncertainty = [(2000.0, 98.9), (2000.07, 233), (2000.18, 199), (2000.27, 159), (2000.32, 56),
                        (2000.4, 21.7), (2000.49, 13.1), (2000.58, 36), (2000.67, 42.9), (2000.76, 33.1),
                        (2000.84, 7.4), (2000.95, 1.7), (2001.09, 1.7), (2001.16, 101.7), (2001.24, 216),
                        (2001.31, 124.6), (2001.4, 10.3), (2001.49, 18.9), (2001.58, 24.6), (2001.68, 13.1),
                        (2001.77, 7.4), (2001.86, 8.6), (2001.97, 3.4), (2002.13, 1.7), (2002.32, 0),
                        (2002.41, 13.1), (2002.52, 18.9), (2002.59, 27.4), (2002.68, 64.6), (2002.77, 73.1),
                        (2002.84, 90.3), (2002.92, 91.4), (2002.99, 84.6), (2003.06, 107.4), (2003.14, 347),
                        (2003.23, 367), (2003.28, 307), (2003.36, 204.6), (2003.41, 124.6), (2003.47, 44.6),
                        (2003.54, 21.7), (2003.65, 13.1), (2003.76, 21.7), (2003.87, 33.1), (2003.98, 41.7),
                        (2004.09, 47.4), (2004.2, 49.1), (2004.27, 43.4), (2004.34, 36), (2004.45, 38.9),
                        (2004.53, 41.7), (2004.63, 36), (2004.71, 24.6), (2004.78, 16), (2004.85, 44.6),
                        (2004.93, 273), (2005.0, 387), (2005.07, 376), (2005.15, 382), (2005.24, 390),
                        (2005.33, 204.6), (2005.42, 136), (2005.51, 121.7), (2005.58, 130.3), (2005.66, 90.3),
                        (2005.73, 4.6), (2005.84, 10.3), (2005.95, 17.1), (2006.06, 14.9), (2006.17, 13.1),
                        (2006.28, 5.7), (2006.43, 3.4), (2006.6, 1.7), (2006.72, 0), (2006.83, 44.6),
                        (2006.94, 50.3), (2007.01, 47.4), (2007.08, 53.1), (2007.19, 44.6), (2007.26, 50.3),
                        (2007.37, 67.4), (2007.48, 110.3), (2007.56, 113.1), (2007.63, 44.6), (2007.7, 21.7),
                        (2007.78, 67.4), (2007.85, 101.7), (2007.92, 216), (2008.0, 330), (2008.07, 347),
                        (2008.14, 352), (2008.21, 347), (2008.29, 261.7), (2008.36, 158.9), (2008.43, 110.3),
                        (2008.49, 124.6), (2008.56, 130.3), (2008.62, 541.7), (2008.69, 610), (2008.74, 647),
                        (2008.8, 558.9), (2008.87, 410.3), (2008.95, 301.7), (2009.02, 198.9), (2009.09, 164.6),
                        (2009.16, 124.6), (2009.24, 67.4), (2009.31, 27.4), (2009.42, 10.3), (2009.53, 3.4),
                        (2009.64, 0), (2009.8, 1.1), (2009.99, 3.4), (2010.17, 1.1), (2010.35, 1.7),
                        (2010.53, 0), (2010.81, 0), (2010.9, 38.9), (2010.99, 61.7), (2011.08, 87.4),
                        (2011.17, 56), (2011.26, 58.9), (2011.36, 67.4), (2011.45, 61.7), (2011.54, 44.6),
                        (2011.61, 10.3), (2011.72, 3.4), (2011.87, 5.7), (2011.99, 3.4), (2012.12, 16),
                        (2012.23, 28.6), (2012.3, 21.7), (2012.38, 5.7), (2012.52, 5.7), (2012.67, 1.7),
                        (2012.81, 3.4), (2012.92, 4.6), (2013.0, 13.1), (2013.09, 1.7), (2013.18, 3.4),
                        (2013.29, 36), (2013.4, 73.1), (2013.51, 84.6), (2013.62, 87.4), (2013.73, 87.4),
                        (2013.84, 90.3), (2013.95, 107.4), (2014.06, 121.7), (2014.17, 121.7), (2014.28, 127.4),
                        (2014.39, 136), (2014.5, 130.3), (2014.57, 133.1), (2014.68, 124.6), (2014.79, 116),
                        (2014.86, 107.4), (2014.94, 84.6), (2015.01, 78.9), (2015.08, 90.3), (2015.19, 104.6),
                        (2015.3, 90.3), (2015.37, 76), (2015.48, 67.4), (2015.59, 56), (2015.66, 44.6),
                        (2015.74, 50.3), (2015.81, 44.6), (2015.89, 36), (2015.96, 30.3), (2016.07, 21.7),
                        (2016.18, 17.1), (2016.29, 16), (2016.4, 18.9), (2016.51, 4.6), (2016.62, 7.4),
                        (2016.73, 10.3), (2016.84, 7.4), (2016.95, 17.1), (2017.06, 16), (2017.16, 3.4),
                        (2017.38, 3.4), (2017.64, 4.6), (2017.75, 13.1), (2017.86, 7.4), (2017.97, 13.1),
                        (2018.08, 10.3), (2018.19, 7.4), (2018.3, 3.4), (2018.48, 1.1), (2018.66, 3.4),
                        (2018.77, 7.4), (2018.88, 13.1), (2018.99, 18.9), (2019.1, 47.4), (2019.17, 73.1),
                        (2019.25, 98.9), (2019.32, 87.4), (2019.39, 56), (2019.5, 33.1), (2019.61, 24.6),
                        (2019.76, 17.1), (2019.94, 13.1), (2020.12, 10.3), (2020.31, 9.1), (2020.49, 7.4),
                        (2020.76, 5.7), (2021.04, 4.6), (2021.31, 4.6), (2021.58, 7.4), (2021.86, 5.7),
                        (2022.13, 4.6), (2022.32, 1.7), (2022.59, 0), (2022.77, 1.7), (2022.86, 7.4),
                        (2022.97, 1.7), (2023.14, 4.6), (2023.32, 3.4), (2023.45, 4.6), (2023.56, 7.4),
                        (2023.67, 10.3), (2023.78, 11.4), (2023.89, 3.4), (2024.0, 1.7), (2024.14, 5.7),
                        (2024.32, 3.4), (2024.5, 7.4), (2024.61, 5.7), (2024.73, 9.1), (2024.82, 7.4),
                        (2024.87, 56), (2024.93, 147.4), (2025.0, 198.9), (2025.05, 221.7), (2025.11, 301.7),
                        (2025.16, 358.9), (2025.24, 387.4), (2025.33, 370), (2025.4, 418.9)]

# facet order, values and y tick marks (free y scales)
panels = [
    ("Indonesia", base + indonesia, [0, 50, 100, 150]),
    ("Malaysia", base + malaysia, [0, 50, 100, 150]),
    ("Singapore", base + singapore, [0, 50, 100, 150, 200]),
    ("Thailand", base + thailand, [0, 50, 100]),
    ("Vietnam", base + vietnam, [0, 50, 100]),
    ("SP500_return", base + sp500, [0, 40, 80, 120]),
    ("MSCI_EM_return", base + msci_em, [0, 50, 100]),
    ("CleanEnergy_return", base + clean_energy, [0, 50, 100, 150]),
    ("Gold_return", base + gold, [0, 50, 100, 150]),
    ("GPR_Global", gpr_global, [0, 25, 50, 75]),
    ("Economic_Uncertainty", economic_uncertainty, [0, 200, 400, 600]),
]
with_x_labels = {"Gold_return", "GPR_Global", "Economic_Uncertainty"}

# panel geometry in pixels of the reference picture
cols = [(162, 1250), (1337, 2427), (2513, 3602)]
rows = [(70, 484), (566, 979), (1062, 1476), (1558, 1972)]
strips = [(27, 70), (504, 566), (999, 1062), (1495, 1558)]


def fx(p):
    return (p - OFF) / W


def fy(p):
    return 1 - (p - OFF) / H


span = last_year - first_year
x_range = [first_year - 0.05 * span, last_year + 0.05 * span]

fig = go.Figure()
layout = {}
shapes = []
annotations = []

for i, (name, pts, yticks) in enumerate(panels):
    r, c = divmod(i, 3)
    k = "" if i == 0 else str(i + 1)
    xs = [p[0] for p in pts]
    ys = [p[1] for p in pts]

    fig.add_trace(go.Scatter(
        x=xs, y=ys, xaxis="x" + k, yaxis="y" + k,
        mode="lines", fill="tozeroy", fillcolor=FILL,
        line=dict(color=LINE, width=2.4),
        showlegend=False, hoverinfo="skip",
    ))

    ymax = max(ys)
    bottom = name in with_x_labels
    layout["xaxis" + k] = dict(
        domain=[fx(cols[c][0]), fx(cols[c][1])], anchor="y" + k,
        range=x_range, tickmode="array", tickvals=years, ticktext=year_labels,
        showticklabels=bottom, ticks="outside" if bottom else "",
        ticklen=11, tickwidth=2, tickcolor="#333333", tickangle=-45,
        tickfont=dict(family=FONT, size=26, color="#4D4D4D"),
        showgrid=True, gridcolor="#EBEBEB", gridwidth=2, zeroline=False,
        showline=True, mirror=True, linecolor="#333333", linewidth=2,
    )
    layout["yaxis" + k] = dict(
        domain=[fy(rows[r][1]), fy(rows[r][0])], anchor="x" + k,
        range=[-0.05 * ymax, 1.05 * ymax], tickmode="array", tickvals=yticks,
        ticks="outside", ticklen=10, tickwidth=2, tickcolor="#333333",
        tickfont=dict(family=FONT, size=26, color="#4D4D4D"),
        showgrid=True, gridcolor="#EBEBEB", gridwidth=2, zeroline=False,
        showline=True, mirror=True, linecolor="#333333", linewidth=2,
    )

    shapes.append(dict(
        type="rect", xref="paper", yref="paper", layer="above",
        x0=fx(cols[c][0]), x1=fx(cols[c][1]), y0=fy(strips[r][1]), y1=fy(strips[r][0]),
        fillcolor="#D9D9D9", line=dict(color="#333333", width=2),
    ))
    annotations.append(dict(
        text=name, xref="paper", yref="paper", showarrow=False,
        x=fx((cols[c][0] + cols[c][1]) / 2), y=fy((strips[r][0] + strips[r][1]) / 2),
        xanchor="center", yanchor="middle",
        font=dict(family=FONT, size=33, color="#1A1A1A", weight="bold"),
    ))

annotations.append(dict(
    text="Years", xref="paper", yref="paper", showarrow=False,
    x=fx(1882), y=fy(2077), xanchor="center", yanchor="middle",
    font=dict(family=FONT, size=39, color="black"),
))
annotations.append(dict(
    text="Directional TO Connectedness (%)", xref="paper", yref="paper", showarrow=False,
    x=fx(46), y=fy(1030), xanchor="center", yanchor="middle", textangle=-90,
    font=dict(family=FONT, size=33, color="black"),
))

fig.update_layout(
    width=W, height=H,
    margin=dict(l=0, r=0, t=0, b=0),
    paper_bgcolor="white", plot_bgcolor="white",
    shapes=shapes, annotations=annotations,
    **layout,
)

fig.write_html("out.html")
